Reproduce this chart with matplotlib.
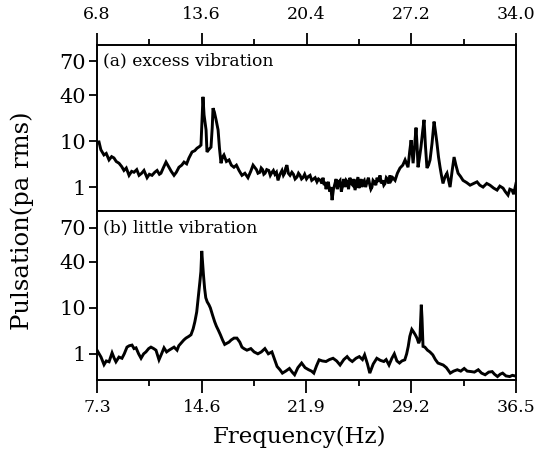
import numpy as np
import matplotlib
matplotlib.use('Agg')
import matplotlib.pyplot as plt
from matplotlib.ticker import FixedLocator, NullFormatter

# ---------------- data ----------------
top_freq = [6.80, 6.93, 7.05, 7.25, 7.40, 7.58, 7.75, 7.90, 8.05, 8.23,
            8.40, 8.55, 8.70, 8.88, 9.05, 9.20, 9.38, 9.53, 9.70, 9.85,
            10.05, 10.20, 10.37, 10.55, 10.70, 10.85, 10.95, 11.10, 11.28, 11.47,
            11.62, 11.80, 11.95, 12.12, 12.30, 12.45, 12.62, 12.77, 12.97, 13.15,
            13.29, 13.45, 13.55, 13.62, 13.68, 13.75, 13.88, 13.94, 14.05, 14.20,
            14.28, 14.33, 14.42, 14.53, 14.66, 14.75, 14.85, 14.95, 15.04, 15.20,
            15.37, 15.52, 15.69, 15.85, 16.02, 16.21, 16.40, 16.60, 16.78, 16.93,
            17.15, 17.25, 17.38, 17.46, 17.55, 17.63, 17.71, 17.82, 17.95, 18.05,
            18.16, 18.25, 18.35, 18.45, 18.55, 18.68, 18.81, 18.90, 18.98, 19.05,
            19.13, 19.22, 19.33, 19.45, 19.55, 19.66, 19.78, 19.88, 19.98, 20.08,
            20.17, 20.28, 20.40, 20.52, 20.63, 20.74, 20.85, 20.96, 21.08, 21.18,
            21.30, 21.40, 21.47, 21.55, 21.60, 21.67, 21.73, 21.82, 21.90, 21.98,
            22.06, 22.15, 22.25, 22.32, 22.40, 22.50, 22.58, 22.66, 22.75, 22.82,
            22.90, 22.98, 23.05, 23.13, 23.22, 23.30, 23.40, 23.48, 23.55, 23.65,
            23.74, 23.80, 23.88, 23.94, 24.00, 24.08, 24.15, 24.24, 24.33, 24.42,
            24.50, 24.58, 24.65, 24.72, 24.80, 24.90, 24.98, 25.08, 25.17, 25.26,
            25.35, 25.42, 25.50, 25.58, 25.65, 25.74, 25.82, 25.90, 26.00,
            26.15, 26.30, 26.47, 26.65, 26.80, 26.99, 27.10, 27.19, 27.25, 27.32,
            27.42, 27.51, 27.58, 27.64, 27.72, 27.83, 27.95, 28.03, 28.12, 28.22,
            28.32, 28.42, 28.55, 28.68, 28.78, 28.87, 28.97, 29.07, 29.16, 29.26,
            29.40, 29.52, 29.62, 29.72, 29.85, 29.98, 30.10, 30.24, 30.40, 30.56,
            30.80, 31.02, 31.25, 31.47, 31.65, 31.86, 32.10, 32.31, 32.55, 32.77,
            32.95, 33.16, 33.30, 33.48, 33.60, 33.74, 33.85, 34.00]
top_level = [9.5, 9.6, 6.5, 5.0, 5.4, 3.9, 4.6, 4.3, 3.6, 3.3,
             2.8, 2.3, 2.6, 1.8, 2.2, 2.1, 2.4, 1.8, 2.0, 2.3,
             1.6, 1.9, 1.8, 2.1, 2.3, 1.9, 2.0, 2.6, 3.5, 2.7,
             2.2, 1.8, 2.1, 2.7, 3.0, 3.5, 3.2, 4.3, 5.8, 6.2,
             7.0, 7.6, 8.2, 20, 38, 22, 14, 5.8, 6.5, 7.4,
             15, 27, 24, 19, 14, 7.0, 3.3, 4.5, 5.0, 3.6,
             3.9, 3.0, 2.7, 3.0, 2.3, 1.8, 2.0, 1.6, 2.2, 3.0,
             2.4, 2.0, 2.1, 2.6, 2.4, 1.9, 2.0, 2.4, 2.3, 1.8,
             2.1, 2.3, 1.9, 2.1, 1.4, 1.9, 2.3, 1.8, 2.0, 2.6,
             3.0, 2.0, 1.8, 2.1, 1.9, 1.5, 1.65, 2.0, 1.8, 1.5,
             1.6, 1.9, 1.5, 1.7, 1.8, 1.4, 1.5, 1.6, 1.3, 1.5,
             1.4, 1.2, 1.6, 1.1, 1.3, 0.9, 1.1, 1.3, 0.8, 1.0,
             0.52, 0.9, 1.2, 1.5, 0.9, 1.3, 1.4, 0.8, 1.1, 1.5,
             1.0, 1.4, 1.3, 0.9, 1.6, 1.2, 1.1, 1.5, 0.86, 1.2,
             1.65, 0.95, 1.2, 1.5, 1.0, 1.3, 1.4, 1.0, 1.3, 1.6,
             1.15, 0.9, 1.0, 1.4, 1.3, 1.1, 1.6, 1.3, 1.8, 1.2,
             1.4, 1.1, 1.2, 1.6, 1.5, 1.2, 1.8, 1.4, 1.6,
             1.4, 2.0, 2.6, 3.0, 3.9, 2.7, 6.0, 10.3, 6.0, 3.3,
             8.0, 15, 8.0, 2.7, 4.0, 7.4, 14, 19, 8.0, 2.6,
             3.0, 3.9, 9.0, 18, 13, 9.0, 4.5, 2.7, 1.8, 1.2,
             1.7, 2.0, 1.4, 1.0, 2.2, 4.5, 3.0, 2.0, 1.7, 1.4,
             1.25, 1.1, 1.2, 1.3, 1.1, 1.0, 1.2, 1.1, 0.95, 0.86,
             1.05, 0.95, 0.8, 0.67, 0.9, 0.86, 0.7, 1.2]

bot_freq = [7.30, 7.45, 7.58, 7.79, 7.95, 8.14, 8.35, 8.50, 8.62, 8.83,
            9.04, 9.20, 9.39, 9.55, 9.74, 9.88, 10.02, 10.20, 10.37, 10.55,
            10.71, 10.90, 11.06, 11.25, 11.41, 11.62, 11.80, 11.97, 12.15, 12.32,
            12.50, 12.67, 12.88, 13.00, 13.15, 13.35, 13.50, 13.70, 13.85, 14.00,
            14.12, 14.25, 14.38, 14.47, 14.54, 14.60, 14.66, 14.72, 14.80, 14.88,
            14.98, 15.10, 15.20, 15.35, 15.50, 15.62, 15.75, 15.90, 16.05, 16.20,
            16.35, 16.50, 16.65, 16.85, 17.05, 17.25, 17.40, 17.54, 17.75, 18.02,
            18.25, 18.51, 18.75, 19.00, 19.24, 19.49, 19.65, 19.85, 20.05, 20.22,
            20.45, 20.71, 20.90, 21.07, 21.30, 21.56, 21.80, 22.05, 22.25, 22.41,
            22.60, 22.78, 23.00, 23.26, 23.50, 23.75, 24.00, 24.24, 24.50, 24.73,
            24.90, 25.09, 25.35, 25.58, 25.80, 25.95, 26.15, 26.31, 26.55, 26.80,
            27.05, 27.29, 27.45, 27.65, 27.85, 28.02, 28.20, 28.38, 28.55, 28.75,
            28.88, 28.99, 29.10, 29.24, 29.36, 29.48, 29.60, 29.72, 29.80, 29.86,
            29.90, 29.95, 30.02, 30.15, 30.33, 30.50, 30.70, 30.88, 31.06, 31.25,
            31.43, 31.65, 31.92, 32.15, 32.41, 32.65, 32.89, 33.10, 33.38, 33.60,
            33.87, 34.10, 34.35, 34.60, 34.84, 35.00, 35.21, 35.40, 35.57, 35.80,
            36.06, 36.25, 36.43, 36.50]
bot_level = [1.2, 1.0, 0.85, 0.58, 0.7, 0.67, 1.05, 0.8, 0.67, 0.85,
             0.8, 1.0, 1.4, 1.5, 1.55, 1.3, 1.35, 1.0, 0.8, 1.0,
             1.1, 1.3, 1.4, 1.3, 1.2, 0.74, 1.0, 1.35, 1.1, 1.2,
             1.3, 1.4, 1.2, 1.5, 1.7, 2.0, 2.2, 2.4, 2.6, 3.5,
             5.0, 8.2, 15, 22, 30, 48, 38, 27, 18, 13.6,
             12, 11, 10, 7.0, 5.0, 4.0, 3.3, 2.6, 2.0, 1.6,
             1.7, 1.8, 2.0, 2.2, 2.2, 1.8, 1.4, 1.3, 1.2, 1.3,
             1.1, 1.0, 1.1, 1.3, 1.0, 1.1, 0.8, 0.53, 0.45, 0.38,
             0.42, 0.48, 0.4, 0.35, 0.5, 0.63, 0.5, 0.45, 0.42, 0.38,
             0.55, 0.74, 0.7, 0.68, 0.75, 0.8, 0.7, 0.57, 0.75, 0.87,
             0.75, 0.68, 0.8, 0.87, 0.75, 0.95, 0.6, 0.38, 0.6, 0.8,
             0.72, 0.68, 0.75, 0.57, 0.8, 1.0, 0.7, 0.63, 0.7, 0.74,
             1.0, 1.45, 2.4, 3.4, 3.0, 2.6, 2.2, 1.7, 2.0, 6.0,
             11.0, 6.0, 1.45, 1.4, 1.2, 1.1, 0.95, 0.75, 0.63, 0.6,
             0.57, 0.5, 0.38, 0.42, 0.45, 0.42, 0.48, 0.42, 0.41, 0.4,
             0.45, 0.38, 0.35, 0.4, 0.41, 0.36, 0.32, 0.36, 0.38, 0.33,
             0.32, 0.34, 0.33, 0.33]

top_xticks = [6.8, 13.6, 20.4, 27.2, 34.0]
bot_xticks = [7.3, 14.6, 21.9, 29.2, 36.5]
y_ticks = [1, 10, 40, 70]
y_ticklabels = ['1', '10', '40', '70']

# ------------- custom level axis (as printed) -------------
_L = np.array([-2.0, 0.0, 1.0, np.log10(40), np.log10(70), 2.5])
_slope = 0.74 / (np.log10(70) - np.log10(40))
_P = np.array([-2.0, 0.0, 1.0, 2.0, 2.74, 2.74 + (2.5 - np.log10(70)) * _slope])


def fwd(v):
    v = np.clip(np.asarray(v, dtype=float), 1e-2, 300)
    return np.interp(np.log10(v), _L, _P)


def inv(p):
    return 10 ** np.interp(np.asarray(p, dtype=float), _P, _L)


W, H = 548, 451
fig = plt.figure(figsize=(W / 100, H / 100), dpi=100)
ax1 = fig.add_axes([97 / W, 1 - 211 / H, 419 / W, 166 / H])
ax2 = fig.add_axes([97 / W, 1 - 380 / H, 419 / W, 169 / H])

for ax, f, v, xt, (p0, p1) in [(ax1, top_freq, top_level, top_xticks, (-0.52, 3.09)),
                                (ax2, bot_freq, bot_level, bot_xticks, (-0.57, 3.11))]:
    ax.plot(f, v, color='black', lw=2.1, solid_joinstyle='miter')
    ax.set_yscale('function', functions=(fwd, inv))
    ax.set_ylim(inv(p0), inv(p1))
    ax.set_xlim(xt[0], xt[-1])
    ax.yaxis.set_major_locator(FixedLocator(y_ticks))
    ax.yaxis.set_minor_locator(FixedLocator([]))
    ax.set_yticklabels(y_ticklabels, fontfamily='DejaVu Serif', fontsize=15)
    ax.tick_params(axis='y', which='major', direction='out', length=6, width=1.3,
                   left=True, right=False, pad=2)
    ax.xaxis.set_major_locator(FixedLocator(xt))
    minors = [(xt[i] + xt[i + 1]) / 2 for i in range(len(xt) - 1)]
    ax.xaxis.set_minor_locator(FixedLocator(minors))
    ax.xaxis.set_minor_formatter(NullFormatter())
    ax.set_xticklabels(['%.1f' % t for t in xt], fontfamily='DejaVu Serif', fontsize=12.5)
    for s in ax.spines.values():
        s.set_linewidth(1.4)

ax1.tick_params(axis='x', which='both', top=True, bottom=False, labeltop=True,
                labelbottom=False, direction='out')
ax1.tick_params(axis='x', which='major', length=9, width=1.3, pad=7)
ax1.tick_params(axis='x', which='minor', length=4, width=1.3)
ax2.tick_params(axis='x', which='both', top=False, bottom=True, labeltop=False,
                labelbottom=True, direction='out')
ax2.tick_params(axis='x', which='major', length=9, width=1.3, pad=5)
ax2.tick_params(axis='x', which='minor', length=4, width=1.3)

ax1.annotate('(a) excess vibration', xy=(0.015, 70), xycoords=('axes fraction', 'data'),
             fontsize=12.3, fontfamily='DejaVu Serif', va='center', ha='left')
ax2.annotate('(b) little vibration', xy=(0.015, 70), xycoords=('axes fraction', 'data'),
             fontsize=12.3, fontfamily='DejaVu Serif', va='center', ha='left')

fig.text(22 / W, 1 - 221 / H, 'Pulsation(pa rms)', rotation=90, ha='center', va='center',
         fontsize=17.5, fontfamily='DejaVu Serif')
fig.text(299 / W, 1 - 437 / H, 'Frequency(Hz)', ha='center', va='center',
         fontsize=16.5, fontfamily='DejaVu Serif')

fig.savefig('out.png', dpi=100)
